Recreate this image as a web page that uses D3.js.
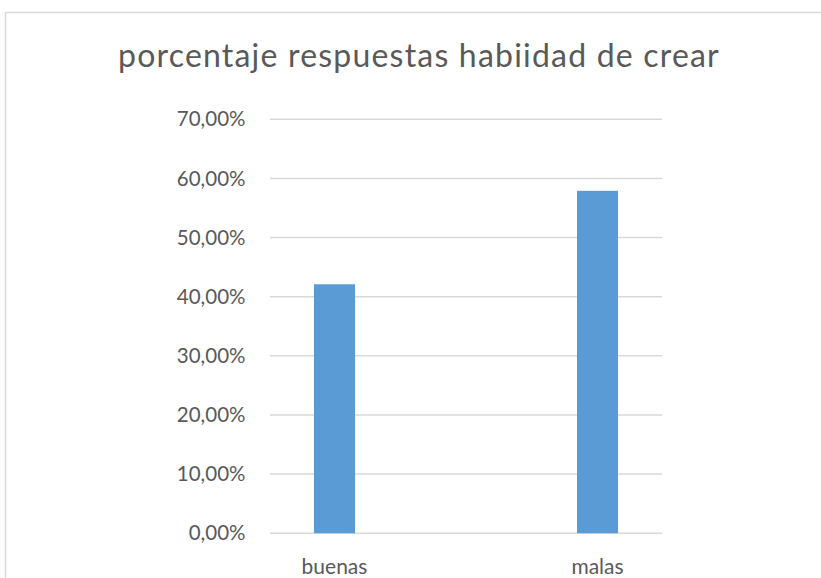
<!DOCTYPE html>
<html><head><meta charset="utf-8">
<script src="https://cdn.jsdelivr.net/npm/d3@7"></script>
<style>body{margin:0;background:#fff}svg{display:block}</style>
</head><body>
<script>
const categories = ["buenas", "malas"];
const values = [0.421, 0.579];
const tickValues = [0, 0.1, 0.2, 0.3, 0.4, 0.5, 0.6, 0.7];
const title = "porcentaje respuestas habiidad de crear";

const W = 821, H = 578;
const svg = d3.select("body").append("svg").attr("width", W).attr("height", H);
const font = "Lato, 'Open Sans', sans-serif";
const textColor = "#595959";

// chart frame
svg.append("path").attr("d", `M5.5,${H} V12.5 H${W}`)
  .attr("fill", "none").attr("stroke", "#d9d9d9").attr("stroke-width", 1.5);

const y = d3.scaleLinear().domain([0, 0.7]).range([533.2, 119.3]);
const x = d3.scaleBand().domain(categories).range([203, 729]);
const gridX0 = 270, gridX1 = 662;
const barW = 41;

const fmt = v => d3.format(".2f")(v * 100).replace(".", ",") + "%";

// gridlines
svg.append("g").selectAll("line").data(tickValues).join("line")
  .attr("x1", gridX0).attr("x2", gridX1)
  .attr("y1", d => y(d)).attr("y2", d => y(d))
  .attr("stroke", "#d9d9d9").attr("stroke-width", 1.5);

// y labels
svg.append("g").selectAll("text").data(tickValues).join("text")
  .attr("x", 245.5).attr("y", d => y(d)).attr("dy", "0.35em")
  .attr("text-anchor", "end").attr("font-family", font).attr("font-size", 20.5)
  .attr("fill", textColor).text(fmt);

// bars
svg.append("g").selectAll("rect").data(values).join("rect")
  .attr("x", (d, i) => x(categories[i]) + x.bandwidth() / 2 - barW / 2)
  .attr("width", barW)
  .attr("y", d => y(d)).attr("height", d => y(0) - y(d))
  .attr("fill", "#5b9bd5");

// category labels
svg.append("g").selectAll("text").data(categories).join("text")
  .attr("x", d => x(d) + x.bandwidth() / 2).attr("y", 574)
  .attr("text-anchor", "middle").attr("font-family", font).attr("font-size", 21)
  .attr("fill", textColor).text(d => d);

// title
svg.append("text").attr("x", 419).attr("y", 67)
  .attr("text-anchor", "middle").attr("font-family", font).attr("font-size", 32)
  .attr("letter-spacing", 1.2)
  .attr("fill", textColor).text(title);
</script>
</body></html>
